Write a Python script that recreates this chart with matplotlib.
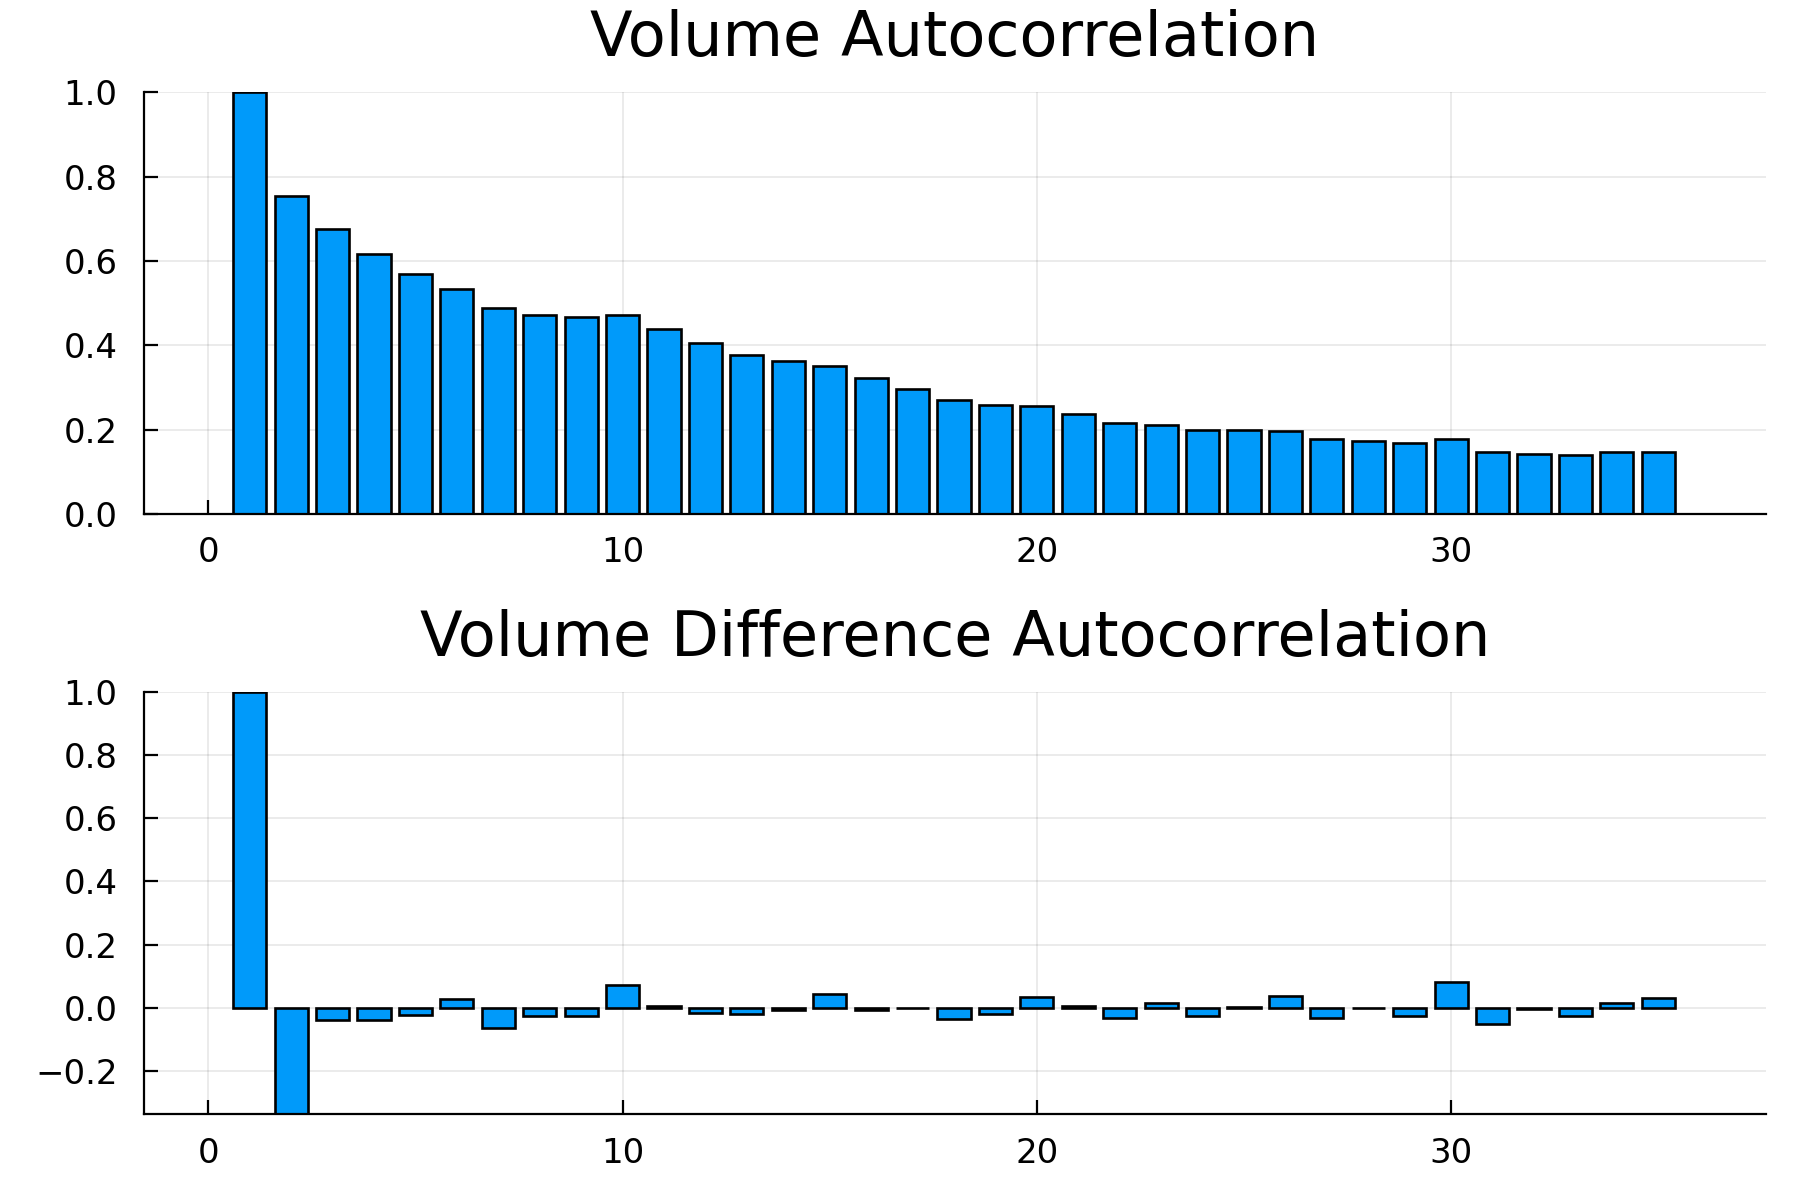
import matplotlib.pyplot as plt
import numpy as np
from matplotlib.ticker import FuncFormatter

lags = np.arange(1, 36)
vol_acf = [1.0, 0.755, 0.676, 0.616, 0.569, 0.534, 0.488, 0.471, 0.466, 0.471,
           0.439, 0.406, 0.377, 0.362, 0.352, 0.322, 0.297, 0.270, 0.259, 0.256,
           0.237, 0.215, 0.210, 0.199, 0.199, 0.196, 0.177, 0.174, 0.169, 0.177,
           0.147, 0.142, 0.139, 0.147, 0.148]
diff_acf = [1.0, -0.42, -0.038, -0.040, -0.022, 0.029, -0.065, -0.026, -0.026, 0.072,
            0.007, -0.017, -0.020, -0.008, 0.045, -0.008, -0.002, -0.035, -0.019, 0.035,
            0.005, -0.033, 0.014, -0.027, 0.004, 0.037, -0.033, -0.001, -0.027, 0.082,
            -0.051, -0.004, -0.025, 0.015, 0.030]

plt.rcParams['font.family'] = ['DejaVu Sans']

fig = plt.figure(figsize=(18, 12), dpi=100)
ax1 = fig.add_axes([0.08, 0.5717, 0.9011, 0.3514])
ax2 = fig.add_axes([0.08, 0.0714, 0.9011, 0.352])

fmt = FuncFormatter(lambda v, p: f"{v:.1f}".replace('-', '\u2212'))

def style(ax, title, ylim, yticks):
    ax.set_xlim(-1.55, 37.6)
    ax.set_ylim(*ylim)
    ax.set_xticks([0, 10, 20, 30])
    ax.set_yticks(yticks)
    ax.yaxis.set_major_formatter(fmt)
    for s in ['top', 'right']:
        ax.spines[s].set_visible(False)
    for s in ['left', 'bottom']:
        ax.spines[s].set_linewidth(1.6)
    ax.tick_params(direction='in', length=10, width=1.6, labelsize=24.5)
    ax.tick_params(axis='y', pad=19)
    ax.tick_params(axis='x', pad=16)
    ax.grid(True, color='black', alpha=0.1, linewidth=1.1)
    ax.set_axisbelow(True)
    ax.set_title(title, fontsize=44.8, pad=26)

ax1.bar(lags, vol_acf, width=0.8, color='#009AFA', edgecolor='black', linewidth=1.9)
style(ax1, 'Volume Autocorrelation', (0, 1.0), np.arange(0, 1.01, 0.2))

ax2.bar(lags, diff_acf, width=0.8, color='#009AFA', edgecolor='black', linewidth=1.9)
style(ax2, 'Volume Difference Autocorrelation', (-0.337, 1.0), np.arange(-0.2, 1.01, 0.2))

fig.savefig('out.png', dpi=100)
